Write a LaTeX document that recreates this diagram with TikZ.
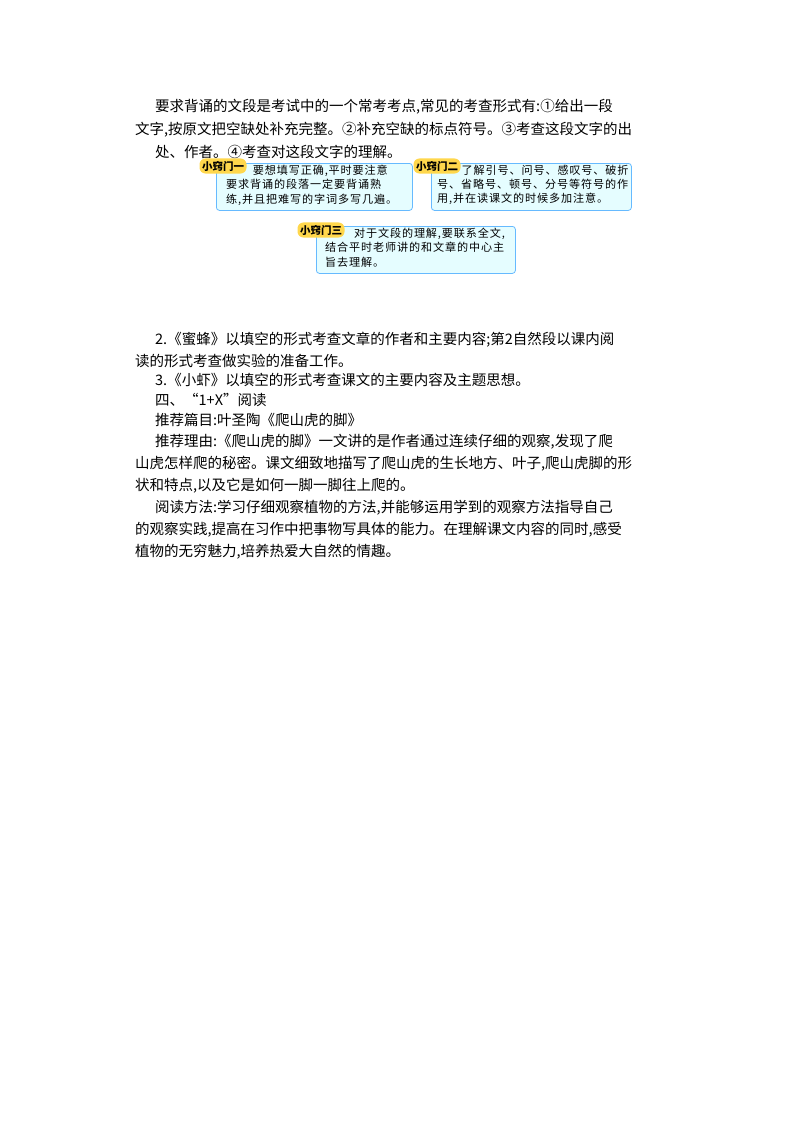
\documentclass[tikz,border=0pt]{standalone}
\usepackage{fontspec}
\setmainfont{Noto Sans CJK SC}
\begin{document}
\begin{tikzpicture}[x=1pt,y=-1pt,
 ln/.style={anchor=west,inner sep=0pt,font=\fontsize{14.5}{16}\selectfont},
 tip/.style={draw=blue!45!cyan!60,fill=blue!8!cyan!10,rounded corners=3pt,line width=0.8pt,anchor=north west,inner sep=0pt},
 tiptxt/.style={anchor=north west,inner sep=0pt,align=left,font=\fontsize{11.1}{14.2}\selectfont\addfontfeature{LetterSpace=8}},
 lab/.style={fill=orange!45!yellow!70,rounded corners=6pt,inner sep=2.5pt,font=\bfseries\fontsize{10.5}{11}\selectfont}]
\useasboundingbox (0,0) rectangle (800,1132);
\node[ln] (l1) at (155,107) {要求背诵的文段是考试中的一个常考考点,常见的考查形式有:①给出一段};
\node[ln] (l2) at (135,130) {文字,按原文把空缺处补充完整。②补充空缺的标点符号。③考查这段文字的出};
\node[ln] (l3) at (155,152) {处、作者。④考查对这段文字的理解。};
\node[tip,minimum width=196pt,minimum height=47pt] (b1) at (216,163) {};
\node[tiptxt] (t1) at (226,165) {\hspace{2.4em}要想填写正确,平时要注意\\要求背诵的段落一定要背诵熟\\练,并且把难写的字词多写几遍。};
\node[lab] (a1) at (223,166) {小窍门一};
\node[tip,minimum width=200pt,minimum height=47pt] (b2) at (431,163) {};
\node[tiptxt] (t2) at (437,165) {\hspace{2.2em}了解引号、问号、感叹号、破折\\号、省略号、顿号、分号等符号的作\\用,并在读课文的时候多加注意。};
\node[lab] (a2) at (437,166) {小窍门二};
\node[tip,minimum width=199pt,minimum height=47pt] (b3) at (316,226) {};
\node[tiptxt] (t3) at (325,228) {\hspace{2.6em}对于文段的理解,要联系全文,\\结合平时老师讲的和文章的中心主\\旨去理解。};
\node[lab] (a3) at (321,230) {小窍门三};
\node[ln] at (155,340) {2.《蜜蜂》以填空的形式考查文章的作者和主要内容;第2自然段以课内阅};
\node[ln] at (135,361) {读的形式考查做实验的准备工作。};
\node[ln] at (155,380) {3.《小虾》以填空的形式考查课文的主要内容及主题思想。};
\node[ln] at (155,400) {四、“1+X”阅读};
\node[ln] at (155,420) {推荐篇目:叶圣陶《爬山虎的脚》};
\node[ln] at (155,442) {推荐理由:《爬山虎的脚》一文讲的是作者通过连续仔细的观察,发现了爬};
\node[ln] at (135,464) {山虎怎样爬的秘密。课文细致地描写了爬山虎的生长地方、叶子,爬山虎脚的形};
\node[ln] at (135,486) {状和特点,以及它是如何一脚一脚往上爬的。};
\node[ln] at (155,508) {阅读方法:学习仔细观察植物的方法,并能够运用学到的观察方法指导自己};
\node[ln] at (135,530) {的观察实践,提高在习作中把事物写具体的能力。在理解课文内容的同时,感受};
\node[ln] at (135,552) {植物的无穷魅力,培养热爱大自然的情趣。};
\end{tikzpicture}
\end{document}
